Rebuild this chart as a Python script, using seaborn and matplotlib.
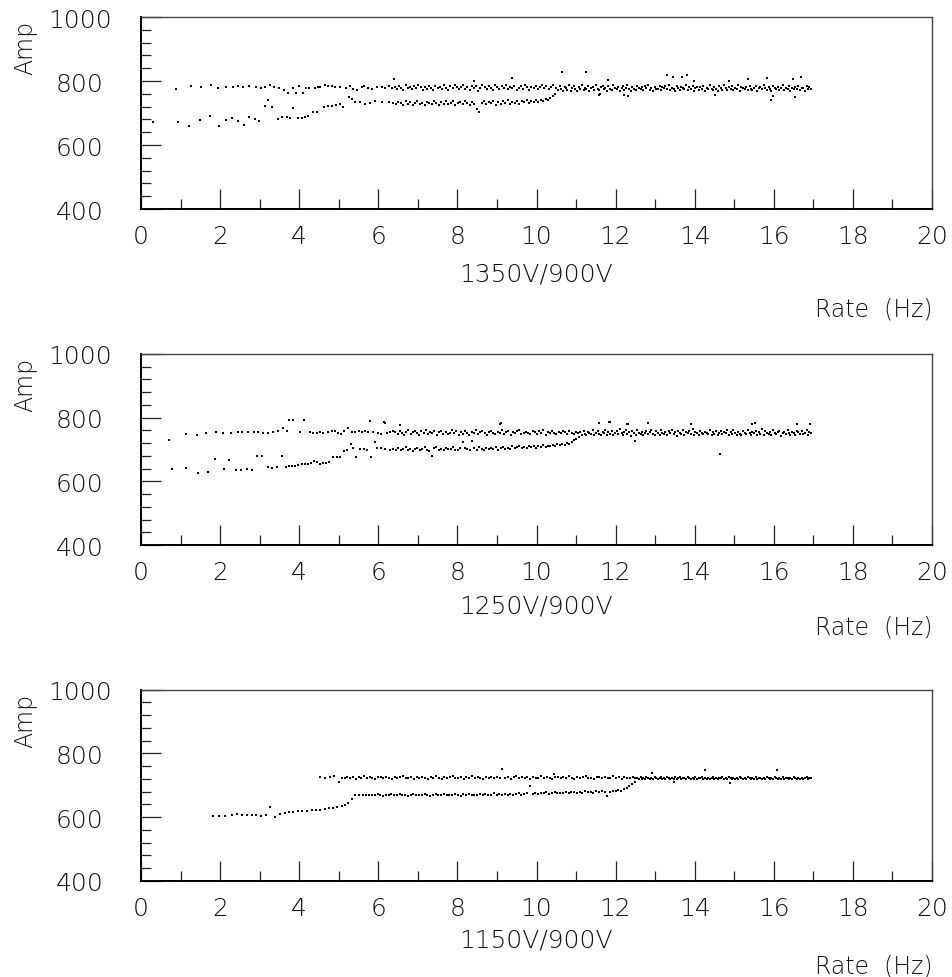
import matplotlib
matplotlib.use("Agg")
import matplotlib.pyplot as plt
import numpy as np
import pandas as pd
import seaborn as sns

# ---------------- DATA ----------------
panel_labels = ["1350V/900V", "1250V/900V", "1150V/900V"]
x_ticks = [0, 2, 4, 6, 8, 10, 12, 14, 16, 18, 20]
y_ticks = [400, 600, 800, 1000]

# ---- 1350V/900V ----
rate_1350_upper_early = [0.88, 1.26, 1.51, 1.77, 1.94, 2.14, 2.32, 2.46, 2.59, 2.74,
                         2.92, 3.03, 3.14, 3.26, 3.37, 3.49, 3.62, 3.71, 3.84, 3.92,
                         4.00, 4.10, 4.17, 4.26, 4.40, 4.47, 4.53, 4.65, 4.74, 4.82,
                         4.91, 5.03, 5.18, 5.28, 5.37, 5.45, 5.58, 5.65, 5.75, 5.85,
                         5.96, 6.09, 6.17, 6.26, 6.34]
amp_1350_upper_early = [775, 785, 780, 788, 778, 780, 780, 784, 780, 785,
                        780, 778, 780, 788, 780, 778, 773, 763, 778, 763,
                        783, 762, 778, 778, 778, 780, 780, 788, 783, 783,
                        782, 780, 778, 783, 775, 773, 780, 783, 778, 775,
                        782, 780, 778, 783, 778]
rate_1350_lower_early = [0.31, 0.94, 1.22, 1.48, 1.74, 1.96, 2.14, 2.29, 2.46, 2.61,
                         2.74, 2.87, 2.98, 3.14, 3.20, 3.30, 3.46, 3.56, 3.68, 3.77,
                         3.84, 3.98, 4.06, 4.15, 4.23, 4.34, 4.46, 4.62, 4.72, 4.82,
                         4.93, 5.03, 5.12, 5.26, 5.33, 5.41, 5.54, 5.66, 5.79, 5.92,
                         6.09, 6.26, 6.38]
amp_1350_lower_early = [671, 671, 660, 678, 692, 660, 679, 683, 674, 663,
                        686, 681, 676, 721, 742, 718, 681, 686, 688, 684,
                        715, 684, 684, 686, 692, 702, 702, 718, 721, 723,
                        726, 728, 718, 749, 744, 733, 733, 728, 731, 736,
                        733, 735, 730]
rate_1350_upper_mid = [6.42, 6.47, 6.53, 6.58, 6.63, 6.69, 6.74, 6.80, 6.85, 6.90,
                       6.96, 7.01, 7.07, 7.12, 7.17, 7.23, 7.28, 7.34, 7.39, 7.44,
                       7.50, 7.55, 7.61, 7.66, 7.71, 7.77, 7.82, 7.88, 7.93, 7.98,
                       8.04, 8.09, 8.15, 8.20, 8.25, 8.31, 8.36, 8.42, 8.47, 8.52,
                       8.58, 8.63, 8.69, 8.74, 8.79, 8.85, 8.90, 8.96, 9.01, 9.06,
                       9.12, 9.17, 9.23, 9.28, 9.33, 9.39, 9.44, 9.50, 9.55, 9.60,
                       9.66, 9.71, 9.77, 9.82, 9.87, 9.93, 9.98, 10.04, 10.09, 10.14,
                       10.20, 10.25, 10.31, 10.36, 10.42]
amp_1350_upper_mid = [781, 776, 784, 779, 772, 786, 778, 781, 774, 783,
                      777, 788, 780, 773, 782, 776, 785, 779, 771, 784,
                      778, 782, 775, 787, 779, 773, 783, 777, 786, 780,
                      774, 782, 789, 776, 781, 772, 785, 779, 783, 770,
                      778, 786, 781, 775, 784, 779, 772, 787, 780, 776,
                      783, 778, 788, 774, 781, 777, 785, 771, 779, 783,
                      776, 786, 780, 773, 782, 778, 785, 775, 781, 787,
                      777, 783, 774, 780, 786]
rate_1350_lower_mid = [6.45, 6.51, 6.57, 6.63, 6.69, 6.75, 6.81, 6.87, 6.93, 6.99,
                       7.05, 7.11, 7.17, 7.23, 7.29, 7.35, 7.41, 7.47, 7.53, 7.59,
                       7.65, 7.71, 7.77, 7.83, 7.89, 7.95, 8.01, 8.07, 8.13, 8.19,
                       8.25, 8.31, 8.37, 8.43, 8.49, 8.55, 8.61, 8.67, 8.73, 8.79,
                       8.85, 8.91, 8.97, 9.03, 9.09, 9.15, 9.21, 9.27, 9.33, 9.39,
                       9.45, 9.51, 9.57, 9.63, 9.69, 9.75, 9.81, 9.87, 9.93, 9.99,
                       10.05, 10.11, 10.17, 10.23, 10.29, 10.35, 10.41, 10.46]
amp_1350_lower_mid = [727, 734, 730, 724, 736, 729, 733, 726, 731, 738,
                      728, 732, 725, 735, 730, 727, 737, 731, 724, 733,
                      729, 736, 727, 732, 739, 726, 731, 734, 728, 736,
                      730, 725, 733, 729, 714, 704, 731, 737, 727, 734,
                      730, 738, 726, 733, 729, 736, 731, 740, 728, 735,
                      732, 738, 729, 736, 733, 741, 730, 737, 734, 740,
                      735, 742, 738, 745, 740, 748, 752, 758]
rate_1350_merged = [10.50, 10.54, 10.59, 10.62, 10.66, 10.71, 10.74, 10.78, 10.83, 10.86,
                    10.90, 10.95, 10.98, 11.02, 11.07, 11.10, 11.14, 11.19, 11.22, 11.26,
                    11.31, 11.34, 11.38, 11.43, 11.46, 11.50, 11.55, 11.58, 11.62, 11.67,
                    11.70, 11.74, 11.79, 11.82, 11.86, 11.91, 11.94, 11.98, 12.03, 12.06,
                    12.10, 12.15, 12.18, 12.22, 12.27, 12.30, 12.34, 12.39, 12.42, 12.46,
                    12.51, 12.54, 12.58, 12.63, 12.66, 12.70, 12.75, 12.78, 12.82, 12.87,
                    12.90, 12.94, 12.99, 13.02, 13.06, 13.11, 13.14, 13.18, 13.23, 13.26,
                    13.30, 13.35, 13.38, 13.42, 13.47, 13.50, 13.54, 13.59, 13.62, 13.66,
                    13.71, 13.74, 13.78, 13.83, 13.86, 13.90, 13.95, 13.98, 14.02, 14.07,
                    14.10, 14.14, 14.19, 14.22, 14.26, 14.31, 14.34, 14.38, 14.43, 14.46,
                    14.50, 14.55, 14.58, 14.62, 14.67, 14.70, 14.74, 14.79, 14.82, 14.86,
                    14.91, 14.94, 14.98, 15.03, 15.06, 15.10, 15.15, 15.18, 15.22, 15.27,
                    15.30, 15.34, 15.39, 15.42, 15.46, 15.51, 15.54, 15.58, 15.63, 15.66,
                    15.70, 15.75, 15.78, 15.82, 15.87, 15.90, 15.94, 15.99, 16.02, 16.06,
                    16.11, 16.14, 16.18, 16.23, 16.26, 16.30, 16.35, 16.38, 16.42, 16.47,
                    16.50, 16.54, 16.59, 16.62, 16.66, 16.71, 16.74, 16.78, 16.83, 16.86,
                    16.90, 16.94]
amp_1350_merged = [779, 771, 784, 775, 768, 782, 777, 773, 786, 770,
                   778, 783, 774, 769, 781, 776, 787, 772, 779, 775,
                   784, 770, 777, 782, 773, 788, 776, 771, 780, 785,
                   774, 779, 768, 783, 776, 772, 786, 778, 775, 781,
                   770, 777, 784, 773, 779, 787, 775, 769, 782, 776,
                   772, 785, 778, 774, 780, 771, 783, 777, 786, 773,
                   779, 768, 782, 776, 774, 785, 771, 780, 777, 783,
                   775, 788, 772, 779, 776, 770, 784, 778, 773, 781,
                   777, 774, 786, 771, 780, 775, 783, 769, 778, 782,
                   773, 780, 776, 785, 770, 779, 774, 787, 776, 772,
                   781, 775, 769, 783, 778, 773, 786, 777, 771, 780,
                   776, 784, 772, 779, 775, 788, 770, 782, 777, 774,
                   780, 771, 785, 776, 773, 779, 783, 768, 777, 781,
                   774, 786, 778, 772, 780, 776, 770, 784, 779, 775,
                   782, 773, 777, 787, 771, 779, 775, 783, 769, 778,
                   776, 781, 774, 785, 772, 779, 777, 770, 783, 776,
                   780, 774]
rate_1350_outliers = [6.40, 8.42, 9.37, 10.64, 11.25, 11.80, 13.29, 13.44, 13.67, 13.80,
                      13.98, 14.87, 15.36, 15.82, 16.49, 16.70, 15.94, 15.98, 16.53, 11.61,
                      12.20, 14.51, 11.58, 12.32]
amp_1350_outliers = [806, 799, 809, 827, 828, 804, 820, 811, 813, 818,
                     801, 801, 805, 808, 805, 813, 742, 752, 749, 759,
                     756, 757, 757, 754]

# ---- 1250V/900V ----
rate_1250_upper_early = [0.71, 1.13, 1.41, 1.64, 1.90, 2.08, 2.27, 2.44, 2.56, 2.71,
                         2.86, 2.97, 3.09, 3.22, 3.35, 3.46, 3.58, 3.68, 3.74, 3.85,
                         4.02, 4.13, 4.27, 4.36, 4.44, 4.53, 4.61, 4.72, 4.82, 4.90,
                         4.99, 5.06, 5.14, 5.24, 5.33, 5.41, 5.50, 5.58, 5.66, 5.75,
                         5.79, 5.87, 6.00, 6.08, 6.15, 6.21, 6.30, 6.38]
amp_1250_upper_early = [731, 748, 746, 753, 755, 753, 753, 755, 755, 756,
                        755, 755, 753, 753, 755, 757, 768, 759, 792, 792,
                        756, 792, 755, 753, 751, 755, 753, 755, 757, 758,
                        753, 750, 758, 767, 756, 755, 757, 756, 758, 755,
                        788, 754, 752, 750, 785, 753, 754, 757]
rate_1250_lower_early = [0.79, 1.15, 1.45, 1.69, 1.87, 2.11, 2.23, 2.39, 2.53, 2.67,
                         2.80, 2.94, 3.07, 3.20, 3.32, 3.43, 3.56, 3.66, 3.73, 3.81,
                         3.89, 3.98, 4.06, 4.15, 4.21, 4.30, 4.37, 4.45, 4.53, 4.61,
                         4.69, 4.76, 4.86, 4.95, 5.03, 5.14, 5.22, 5.31, 5.37, 5.43,
                         5.54, 5.65, 5.72, 5.81, 5.92, 5.96, 6.08, 6.17, 6.30, 6.38]
amp_1250_lower_early = [639, 641, 626, 628, 670, 639, 667, 636, 636, 639,
                        636, 681, 679, 646, 641, 646, 681, 644, 649, 649,
                        649, 651, 653, 654, 656, 659, 663, 661, 656, 659,
                        659, 661, 676, 676, 677, 695, 697, 718, 704, 676,
                        702, 702, 699, 678, 725, 704, 704, 702, 700, 702]
rate_1250_upper_mid = [6.43, 6.49, 6.54, 6.60, 6.65, 6.71, 6.76, 6.82, 6.87, 6.93,
                       6.98, 7.04, 7.09, 7.15, 7.20, 7.26, 7.31, 7.37, 7.42, 7.48,
                       7.53, 7.59, 7.64, 7.70, 7.75, 7.81, 7.86, 7.92, 7.97, 8.03,
                       8.08, 8.14, 8.19, 8.25, 8.30, 8.36, 8.41, 8.47, 8.52, 8.58,
                       8.63, 8.69, 8.74, 8.80, 8.85, 8.91, 8.96, 9.02, 9.07, 9.13,
                       9.18, 9.24, 9.29, 9.35, 9.40, 9.46, 9.51, 9.57, 9.62, 9.68,
                       9.73, 9.79, 9.84, 9.90, 9.95, 10.01, 10.06, 10.12, 10.17, 10.23,
                       10.28, 10.34, 10.39, 10.45, 10.50, 10.56, 10.61, 10.67, 10.72, 10.78,
                       10.83, 10.89, 10.94, 11.00, 11.05]
amp_1250_upper_mid = [756, 750, 759, 753, 747, 755, 761, 749, 754, 758,
                      751, 746, 757, 753, 760, 748, 755, 752, 758, 745,
                      754, 759, 750, 756, 748, 753, 761, 751, 757, 747,
                      755, 750, 758, 753, 746, 756, 752, 760, 749, 754,
                      757, 751, 747, 755, 759, 752, 748, 756, 753, 761,
                      750, 755, 758, 746, 754, 751, 757, 760, 749, 753,
                      756, 752, 748, 759, 754, 750, 757, 753, 761, 747,
                      755, 751, 758, 753, 749, 756, 752, 759, 754, 750,
                      757, 753, 748, 755, 751]
rate_1250_lower_mid = [6.45, 6.51, 6.57, 6.63, 6.69, 6.75, 6.81, 6.87, 6.93, 6.99,
                       7.05, 7.11, 7.17, 7.23, 7.29, 7.35, 7.41, 7.47, 7.53, 7.59,
                       7.65, 7.71, 7.77, 7.83, 7.89, 7.95, 8.01, 8.07, 8.13, 8.19,
                       8.25, 8.31, 8.37, 8.43, 8.49, 8.55, 8.61, 8.67, 8.73, 8.79,
                       8.85, 8.91, 8.97, 9.03, 9.09, 9.15, 9.21, 9.27, 9.33, 9.39,
                       9.45, 9.51, 9.57, 9.63, 9.69, 9.75, 9.81, 9.87, 9.93, 9.99,
                       10.05, 10.11, 10.17, 10.23, 10.29, 10.35, 10.41, 10.47, 10.53, 10.59,
                       10.65, 10.71, 10.77, 10.83, 10.89, 10.95, 11.01, 11.07]
amp_1250_lower_mid = [700, 705, 697, 702, 708, 699, 703, 696, 701, 706,
                      698, 703, 709, 700, 695, 679, 704, 707, 698, 702,
                      699, 705, 701, 703, 708, 700, 697, 704, 725, 706,
                      702, 699, 728, 704, 700, 707, 703, 698, 705, 701,
                      706, 702, 708, 700, 704, 709, 701, 706, 703, 710,
                      705, 708, 711, 704, 709, 706, 712, 707, 710, 705,
                      711, 708, 714, 709, 712, 710, 715, 711, 716, 713,
                      718, 714, 720, 717, 724, 729, 733, 738]
rate_1250_merged = [11.10, 11.14, 11.19, 11.22, 11.26, 11.31, 11.34, 11.38, 11.43, 11.46,
                    11.50, 11.55, 11.58, 11.62, 11.67, 11.70, 11.74, 11.79, 11.82, 11.86,
                    11.91, 11.94, 11.98, 12.03, 12.06, 12.10, 12.15, 12.18, 12.22, 12.27,
                    12.30, 12.34, 12.39, 12.42, 12.46, 12.51, 12.54, 12.58, 12.63, 12.66,
                    12.70, 12.75, 12.78, 12.82, 12.87, 12.90, 12.94, 12.99, 13.02, 13.06,
                    13.11, 13.14, 13.18, 13.23, 13.26, 13.30, 13.35, 13.38, 13.42, 13.47,
                    13.50, 13.54, 13.59, 13.62, 13.66, 13.71, 13.74, 13.78, 13.83, 13.86,
                    13.90, 13.95, 13.98, 14.02, 14.07, 14.10, 14.14, 14.19, 14.22, 14.26,
                    14.31, 14.34, 14.38, 14.43, 14.46, 14.50, 14.55, 14.58, 14.62, 14.67,
                    14.70, 14.74, 14.79, 14.82, 14.86, 14.91, 14.94, 14.98, 15.03, 15.06,
                    15.10, 15.15, 15.18, 15.22, 15.27, 15.30, 15.34, 15.39, 15.42, 15.46,
                    15.51, 15.54, 15.58, 15.63, 15.66, 15.70, 15.75, 15.78, 15.82, 15.87,
                    15.90, 15.94, 15.99, 16.02, 16.06, 16.11, 16.14, 16.18, 16.23, 16.26,
                    16.30, 16.35, 16.38, 16.42, 16.47, 16.50, 16.54, 16.59, 16.62, 16.66,
                    16.71, 16.74, 16.78, 16.83, 16.86, 16.90, 16.94]
amp_1250_merged = [754, 747, 759, 750, 744, 756, 752, 748, 761, 745,
                   753, 758, 749, 744, 756, 751, 762, 747, 754, 750,
                   759, 745, 752, 757, 748, 763, 751, 746, 755, 760,
                   749, 754, 743, 758, 751, 747, 761, 753, 750, 756,
                   745, 752, 759, 748, 754, 762, 750, 744, 757, 751,
                   747, 760, 753, 749, 755, 746, 758, 752, 761, 748,
                   754, 743, 757, 751, 749, 760, 746, 755, 752, 758,
                   750, 763, 747, 754, 751, 745, 759, 753, 748, 756,
                   752, 749, 761, 746, 755, 750, 758, 744, 753, 757,
                   748, 755, 751, 760, 745, 754, 749, 762, 751, 747,
                   756, 750, 744, 758, 753, 748, 761, 752, 746, 755,
                   751, 759, 747, 754, 750, 763, 745, 757, 752, 749,
                   755, 746, 760, 751, 748, 754, 758, 743, 752, 756,
                   749, 761, 753, 747, 755, 751, 745, 759, 754, 750,
                   757, 748, 752, 760, 746, 754, 751]
rate_1250_outliers = [6.17, 6.55, 9.10, 9.08, 11.59, 11.84, 11.86, 12.30, 12.32, 12.83,
                      13.90, 15.46, 15.53, 16.58, 16.92, 14.64, 12.49]
amp_1250_outliers = [784, 778, 782, 781, 782, 785, 786, 779, 779, 784,
                     779, 781, 784, 781, 781, 686, 728]

# ---- 1150V/900V ----
rate_1150_lower_early = [1.83, 1.96, 2.13, 2.29, 2.42, 2.55, 2.67, 2.80, 2.91, 3.03,
                         3.16, 3.26, 3.39, 3.51, 3.64, 3.75, 3.85, 3.96, 4.08, 4.19,
                         4.32, 4.42, 4.53, 4.64, 4.75, 4.86, 4.96, 5.07, 5.16, 5.24,
                         5.33, 5.41, 5.50, 5.62]
amp_1150_lower_early = [603, 603, 603, 607, 610, 607, 607, 607, 607, 605,
                        607, 631, 600, 610, 614, 616, 616, 618, 619, 620,
                        622, 622, 623, 626, 628, 630, 632, 635, 639, 645,
                        657, 668, 670, 670]
rate_1150_lower_mid = [5.70, 5.77, 5.84, 5.91, 5.98, 6.05, 6.12, 6.19, 6.26, 6.33,
                       6.40, 6.47, 6.54, 6.61, 6.68, 6.75, 6.82, 6.89, 6.96, 7.03,
                       7.10, 7.17, 7.24, 7.31, 7.38, 7.45, 7.52, 7.59, 7.66, 7.73,
                       7.80, 7.87, 7.94, 8.01, 8.08, 8.15, 8.22, 8.29, 8.36, 8.43,
                       8.50, 8.57, 8.64, 8.71, 8.78, 8.85, 8.92, 8.99, 9.06, 9.13,
                       9.20, 9.27, 9.34, 9.41, 9.48, 9.55, 9.62, 9.69, 9.76, 9.83,
                       9.90, 9.97, 10.04, 10.11, 10.18, 10.25, 10.32, 10.39, 10.46, 10.53,
                       10.60, 10.67, 10.74, 10.81, 10.88, 10.95, 11.02, 11.09, 11.16, 11.23,
                       11.30, 11.37, 11.44, 11.51, 11.58, 11.65, 11.72, 11.79, 11.86, 11.93,
                       12.00, 12.07, 12.14, 12.21, 12.28, 12.35, 12.42, 12.49]
amp_1150_lower_mid = [670, 668, 671, 669, 672, 670, 667, 671, 669, 673,
                      670, 668, 672, 669, 671, 666, 670, 673, 668, 671,
                      669, 672, 670, 667, 671, 674, 669, 670, 672, 668,
                      671, 669, 673, 670, 667, 672, 670, 674, 669, 671,
                      668, 672, 670, 673, 669, 671, 675, 670, 672, 669,
                      673, 671, 674, 670, 672, 676, 671, 673, 675, 697,
                      674, 676, 673, 677, 675, 678, 674, 676, 679, 675,
                      677, 675, 679, 676, 678, 680, 677, 679, 676, 681,
                      678, 680, 677, 681, 679, 682, 680, 665, 679, 683,
                      681, 684, 683, 688, 692, 697, 703, 710]
rate_1150_upper = [4.53, 4.65, 4.77, 4.88, 5.01, 5.08, 5.15, 5.22, 5.29, 5.36,
                   5.43, 5.50, 5.57, 5.64, 5.71, 5.78, 5.85, 5.92, 5.99, 6.06,
                   6.13, 6.20, 6.27, 6.34, 6.41, 6.48, 6.55, 6.62, 6.69, 6.76,
                   6.83, 6.90, 6.97, 7.04, 7.11, 7.18, 7.25, 7.32, 7.39, 7.46,
                   7.53, 7.60, 7.67, 7.74, 7.81, 7.88, 7.95, 8.02, 8.09, 8.16,
                   8.23, 8.30, 8.37, 8.44, 8.51, 8.58, 8.65, 8.72, 8.79, 8.86,
                   8.93, 9.00, 9.07, 9.14, 9.21, 9.28, 9.35, 9.42, 9.49, 9.56,
                   9.63, 9.70, 9.77, 9.84, 9.91, 9.98, 10.05, 10.12, 10.19, 10.26,
                   10.33, 10.40, 10.47, 10.54, 10.61, 10.68, 10.75, 10.82, 10.89, 10.96,
                   11.03, 11.10, 11.17, 11.24, 11.31, 11.38, 11.45, 11.52, 11.59, 11.66,
                   11.73, 11.80, 11.87, 11.94, 12.01, 12.08, 12.15, 12.22, 12.29, 12.36,
                   12.43, 12.50]
amp_1150_upper = [725, 724, 726, 728, 709, 724, 722, 726, 723, 727,
                  721, 725, 724, 728, 722, 726, 723, 720, 725, 727,
                  722, 726, 724, 721, 727, 723, 725, 729, 722, 724,
                  726, 721, 725, 723, 727, 724, 720, 726, 722, 728,
                  724, 721, 726, 723, 725, 729, 722, 724, 727, 721,
                  725, 723, 728, 722, 726, 724, 720, 727, 723, 725,
                  722, 726, 724, 751, 723, 727, 721, 725, 729, 722,
                  726, 723, 725, 721, 727, 724, 722, 728, 723, 726,
                  724, 721, 727, 725, 722, 726, 723, 729, 724, 721,
                  726, 722, 725, 728, 723, 724, 721, 727, 725, 722,
                  726, 723, 724, 728, 722, 725, 721, 726, 724, 723,
                  727, 724]
rate_1150_merged = [12.54, 12.58, 12.63, 12.66, 12.70, 12.75, 12.78, 12.82, 12.87, 12.90,
                    12.94, 12.99, 13.02, 13.06, 13.11, 13.14, 13.18, 13.23, 13.26, 13.30,
                    13.35, 13.38, 13.42, 13.47, 13.50, 13.54, 13.59, 13.62, 13.66, 13.71,
                    13.74, 13.78, 13.83, 13.86, 13.90, 13.95, 13.98, 14.02, 14.07, 14.10,
                    14.14, 14.19, 14.22, 14.26, 14.31, 14.34, 14.38, 14.43, 14.46, 14.50,
                    14.55, 14.58, 14.62, 14.67, 14.70, 14.74, 14.79, 14.82, 14.86, 14.91,
                    14.94, 14.98, 15.03, 15.06, 15.10, 15.15, 15.18, 15.22, 15.27, 15.30,
                    15.34, 15.39, 15.42, 15.46, 15.51, 15.54, 15.58, 15.63, 15.66, 15.70,
                    15.75, 15.78, 15.82, 15.87, 15.90, 15.94, 15.99, 16.02, 16.06, 16.11,
                    16.14, 16.18, 16.23, 16.26, 16.30, 16.35, 16.38, 16.42, 16.47, 16.50,
                    16.54, 16.59, 16.62, 16.66, 16.71, 16.74, 16.78, 16.83, 16.86, 16.90,
                    16.94]
amp_1150_merged = [723, 720, 725, 721, 724, 719, 726, 722, 720, 724,
                   721, 725, 723, 719, 722, 726, 720, 723, 721, 725,
                   722, 719, 724, 721, 726, 720, 723, 725, 721, 722,
                   724, 720, 726, 722, 719, 723, 721, 725, 720, 724,
                   722, 726, 719, 723, 721, 724, 720, 722, 725, 721,
                   723, 720, 724, 722, 726, 719, 723, 721, 725, 722,
                   720, 724, 721, 723, 719, 725, 722, 720, 724, 721,
                   726, 722, 719, 723, 721, 725, 720, 722, 724, 721,
                   723, 719, 725, 722, 720, 724, 721, 726, 722, 720,
                   723, 721, 725, 719, 722, 724, 720, 723, 721, 725,
                   722, 720, 724, 721, 723, 719, 722, 725, 721, 723,
                   722]
rate_1150_outliers = [12.91, 14.26, 16.07, 10.43, 13.47, 14.90]
amp_1150_outliers = [739, 749, 749, 735, 711, 707]

# ---------------- assemble ----------------
segments = {
    "1350V/900V": [(rate_1350_upper_early, amp_1350_upper_early),
                   (rate_1350_lower_early, amp_1350_lower_early),
                   (rate_1350_upper_mid, amp_1350_upper_mid),
                   (rate_1350_lower_mid, amp_1350_lower_mid),
                   (rate_1350_merged, amp_1350_merged),
                   (rate_1350_outliers, amp_1350_outliers)],
    "1250V/900V": [(rate_1250_upper_early, amp_1250_upper_early),
                   (rate_1250_lower_early, amp_1250_lower_early),
                   (rate_1250_upper_mid, amp_1250_upper_mid),
                   (rate_1250_lower_mid, amp_1250_lower_mid),
                   (rate_1250_merged, amp_1250_merged),
                   (rate_1250_outliers, amp_1250_outliers)],
    "1150V/900V": [(rate_1150_lower_early, amp_1150_lower_early),
                   (rate_1150_lower_mid, amp_1150_lower_mid),
                   (rate_1150_upper, amp_1150_upper),
                   (rate_1150_merged, amp_1150_merged),
                   (rate_1150_outliers, amp_1150_outliers)],
}
rows = []
for label, segs in segments.items():
    for i, (r, a) in enumerate(segs):
        assert len(r) == len(a), (label, i, len(r), len(a))
        rows.extend({"panel": label, "rate": x, "amp": y} for x, y in zip(r, a))
df = pd.DataFrame(rows)

# ---------------- figure ----------------
sns.set_theme(style="white")
plt.rcParams["font.family"] = ["DejaVu Sans"]
plt.rcParams["font.weight"] = "light"

W, H = 952, 978
fig = plt.figure(figsize=(W / 100, H / 100), dpi=100)

ax_left, ax_right = 141, 932
panel_px = [(18, 210), (355, 546), (690.5, 882)]   # (top, bottom) in pixels
label_off = [(64, 100), (60, 82), (59, 85)]        # xlabel / "Rate (Hz)" offsets below axis (px)
txt_color = "#111111"

for label, (top, bot), (off_lab, off_rate) in zip(panel_labels, panel_px, label_off):
    ax = fig.add_axes([ax_left / W, 1 - bot / H, (ax_right - ax_left) / W, (bot - top) / H])
    sub = df[df["panel"] == label]
    sns.scatterplot(data=sub, x="rate", y="amp", ax=ax, marker="s", s=1.8,
                    color="black", linewidth=0, legend=False)
    ax.set_xlim(0, 20)
    ax.set_ylim(400, 1000)
    ax.set_xticks(x_ticks)
    ax.set_xticklabels([str(t) for t in x_ticks], fontsize=18, color=txt_color,
                       fontweight="light")
    ax.set_xticks(list(range(1, 20, 2)), minor=True)
    ax.set_yticks(y_ticks)
    ax.set_yticklabels([str(t) for t in y_ticks], fontsize=18, ha="center",
                       color=txt_color, fontweight="light")
    ax.set_yticks(list(range(440, 1000, 40)), minor=True)
    ax.tick_params(which="major", direction="in", length=14.4, width=0.9, color="#222222",
                   bottom=True, left=True, top=False, right=False)
    ax.tick_params(which="minor", direction="in", length=7.2, width=0.9, color="#222222",
                   bottom=True, left=True, top=False, right=False)
    ax.tick_params(axis="x", which="major", pad=11)
    ax.tick_params(axis="y", which="major", pad=44)
    for side in ["left", "bottom"]:
        ax.spines[side].set_color("black")
        ax.spines[side].set_linewidth(1.4)
    for side in ["top", "right"]:
        ax.spines[side].set_color("#444444")
        ax.spines[side].set_linewidth(1.0)
    ax.set_xlabel("")
    ax.set_ylabel("")
    hpx = bot - top
    wpx = ax_right - ax_left
    ax.text(0.5, -off_lab / hpx, label, transform=ax.transAxes, ha="center", va="center",
            fontsize=18, color=txt_color, fontweight="light")
    ax.text(1.0, -off_rate / hpx, "Rate  (Hz)", transform=ax.transAxes, ha="right",
            va="center", fontsize=17, color=txt_color, fontweight="light")
    ax.text((25 - ax_left) / wpx, 1 - 30 / hpx, "Amp", transform=ax.transAxes,
            rotation=90, ha="center", va="center", fontsize=17, color=txt_color,
            fontweight="light")

fig.savefig("out.png", dpi=100, facecolor="white")
